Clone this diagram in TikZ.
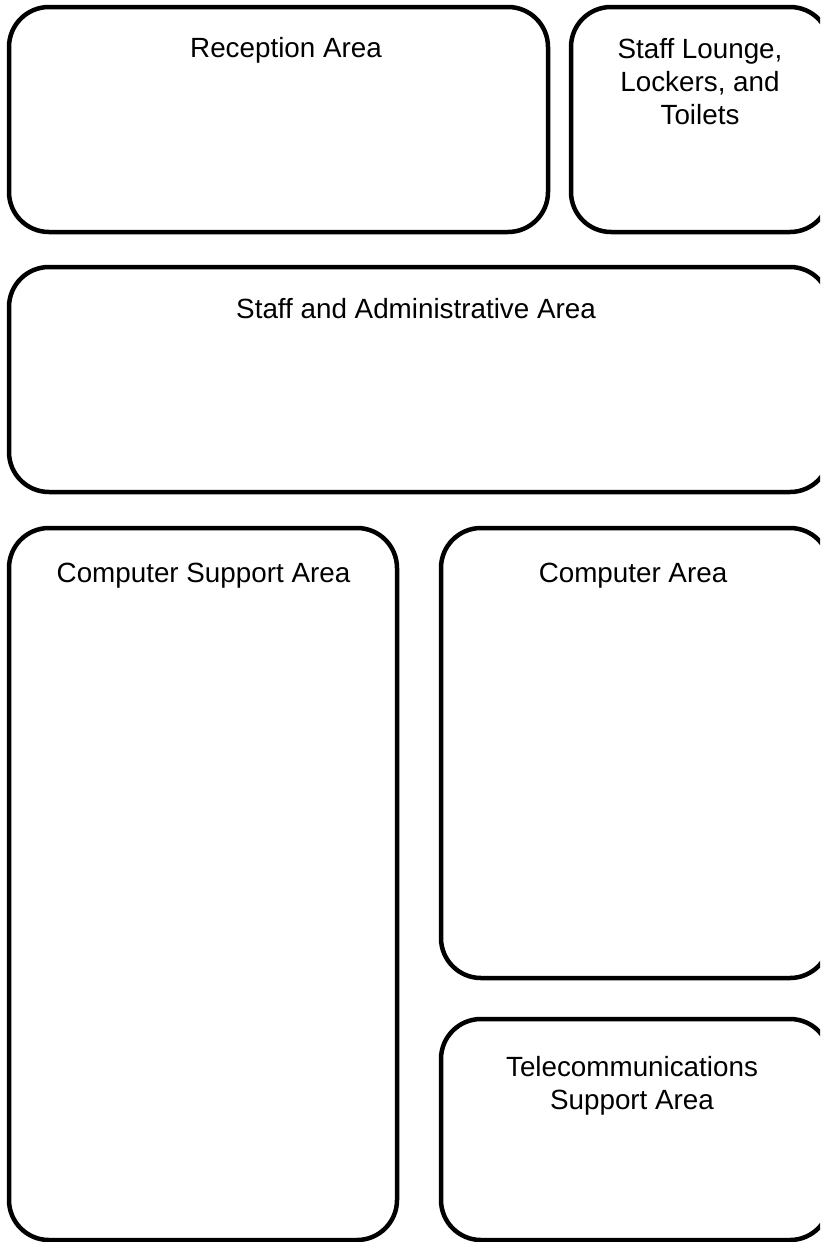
\documentclass[tikz,border=0pt]{standalone}
\usepackage{fontspec}
\setmainfont{Liberation Sans}
\begin{document}
\begin{tikzpicture}[x=1pt,y=-1pt,
  room/.style={draw=black,line width=4.5pt,rounded corners=40pt},
  lbl/.style={anchor=north,align=center,font=\fontsize{27.8}{33}\selectfont,inner sep=0pt}]
\useasboundingbox (0,0) rectangle (820,1242);
\clip (0,0) rectangle (820,1242);
% rooms
\draw[room] (9,7) rectangle (548,232);
\draw[room] (571,7) rectangle (830,232);
\draw[room] (9,267) rectangle (830,492);
\draw[room] (9,528) rectangle (397,1240);
\draw[room] (441,528) rectangle (830,978);
\draw[room] (441,1019) rectangle (830,1240);
% labels
\node[lbl] (reception) at (286,37.5) {Reception Area};
\node[lbl] (lounge) at (700,38.5) {Staff Lounge,\\Lockers, and\\Toilets};
\node[lbl] (admin) at (416,298.5) {Staff and Administrative Area};
\node[lbl] (support) at (203.5,562.5) {Computer Support Area};
\node[lbl] (computer) at (633,562.5) {Computer Area};
\node[lbl] (telecom) at (632,1056.5) {Telecommunications\\Support Area};
\end{tikzpicture}
\end{document}
